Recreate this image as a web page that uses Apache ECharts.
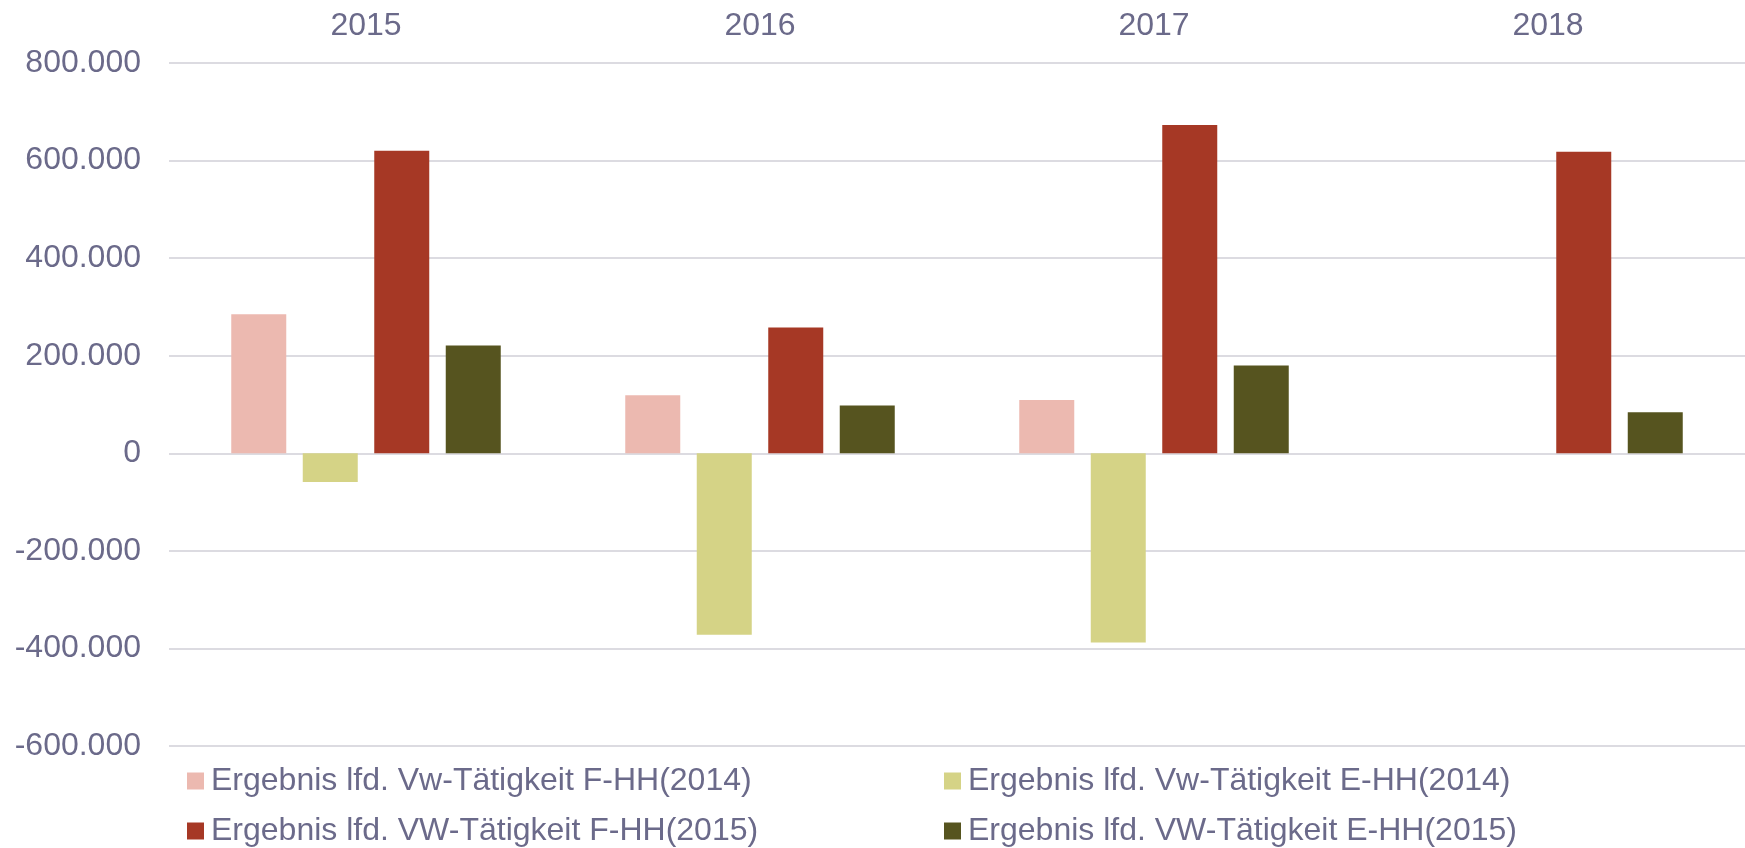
<!DOCTYPE html>
<html>
<head>
    <meta http-equiv="Content-Type" content="text/html; charset=utf-8" />
    <script src="https://cdn.jsdelivr.net/npm/echarts@6/dist/echarts.min.js"></script>
    <style>
        html, body { margin: 0; padding: 0; background: #fff; }
        #chart { width: 1745px; height: 848px; }
    </style>
</head>
<body>
<div id="chart"></div>
<script type="text/javascript">
    // Jahre (Kategorien)
    var jahre = ['2015', '2016', '2017', '2018'];

    // Werte je Reihe
    var fhh2014 = [285000, 119000, 109000, null];
    var ehh2014 = [-59000, -372000, -388000, null];
    var fhh2015 = [620000, 258000, 673000, 618000];
    var ehh2015 = [221000, 98000, 180000, 84000];

    var namen = [
        'Ergebnis lfd. Vw-Tätigkeit F-HH(2014)',
        'Ergebnis lfd. Vw-Tätigkeit E-HH(2014)',
        'Ergebnis lfd. VW-Tätigkeit F-HH(2015)',
        'Ergebnis lfd. VW-Tätigkeit E-HH(2015)'
    ];
    var farben = ['#ecb9b0', '#d5d386', '#a63825', '#56541f'];

    var textFarbe = '#6b6a8a';
    var schrift = 'Liberation Sans, Arial, Helvetica, sans-serif';

    function formatZahl(v) {
        var neg = v < 0;
        var s = String(Math.abs(v));
        s = s.replace(/\B(?=(\d{3})+(?!\d))/g, '.');
        return (neg ? '-' : '') + s;
    }

    var chart = echarts.init(document.getElementById('chart'));

    // zwei Legenden-Spalten, je zwei Einträge untereinander
    var legendeBasis = {
        orient: 'vertical',
        top: 765,
        height: 120,
        padding: 0,
        itemWidth: 17,
        itemHeight: 17,
        itemGap: 18,
        icon: 'rect',
        textStyle: { color: textFarbe, fontSize: 32, lineHeight: 32, fontFamily: schrift, padding: [0, 0, 0, 2] }
    };

    var option = {
        animation: false,
        color: farben,
        legend: [
            Object.assign({}, legendeBasis, { left: 187, data: [namen[0], namen[2]] }),
            Object.assign({}, legendeBasis, { left: 944, data: [namen[1], namen[3]] })
        ],
        grid: { left: 169, right: 0, top: 63, bottom: 102 },
        xAxis: {
            type: 'category',
            position: 'top',
            data: jahre,
            axisLine: { show: false },
            axisTick: { show: false },
            axisLabel: { color: textFarbe, fontSize: 32, fontFamily: schrift, margin: 21 }
        },
        yAxis: {
            type: 'value',
            min: -600000,
            max: 800000,
            interval: 200000,
            axisLine: { show: false },
            axisTick: { show: false },
            splitLine: { lineStyle: { color: '#dcdbe1', width: 2 } },
            axisLabel: {
                color: textFarbe, fontSize: 32, fontFamily: schrift, margin: 28,
                formatter: formatZahl
            }
        },
        series: [
            { name: namen[0], type: 'bar', data: fhh2014, barWidth: 55, barGap: '30%' },
            { name: namen[1], type: 'bar', data: ehh2014, barWidth: 55, barGap: '30%' },
            { name: namen[2], type: 'bar', data: fhh2015, barWidth: 55, barGap: '30%' },
            { name: namen[3], type: 'bar', data: ehh2015, barWidth: 55, barGap: '30%' }
        ]
    };

    chart.setOption(option);
</script>
</body>
</html>
